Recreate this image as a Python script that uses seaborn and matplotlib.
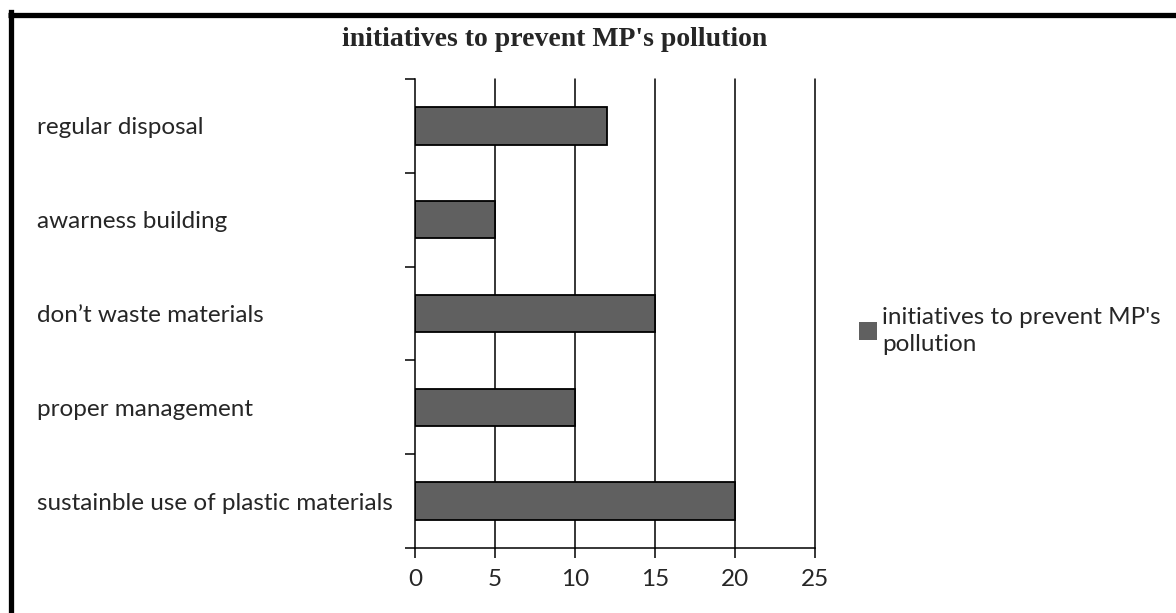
import matplotlib
matplotlib.use("Agg")
import matplotlib.pyplot as plt
import seaborn as sns
import pandas as pd
from matplotlib.lines import Line2D
from matplotlib.patches import Patch

categories = ["regular disposal", "awarness building", "don\u2019t waste materials",
              "proper management", "sustainble use of plastic materials"]
values = [12, 5, 15, 10, 20]
series_name = "initiatives to prevent MP's pollution"
xticks = [0, 5, 10, 15, 20, 25]

df = pd.DataFrame({"category": categories, "value": values})

sns.set_style("white")
plt.rcParams['font.family'] = ['Lato', 'DejaVu Sans']

W, H = 1176, 613
FS = 17.5
fig = plt.figure(figsize=(W / 100, H / 100), dpi=100)
ax = fig.add_axes([415 / W, (H - 548) / H, 400 / W, (548 - 79) / H])

sns.barplot(data=df, x="value", y="category", orient="h", color="#606060",
            edgecolor="black", linewidth=1.3, width=0.4, saturation=1, ax=ax, zorder=3)

ax.set_xlim(0, 25)
ax.set_ylim(4.5, -0.5)
ax.set_xticks(xticks)
ax.set_xticklabels([str(t) for t in xticks], fontsize=FS)
ax.set_xlabel("")
ax.set_ylabel("")

# major y ticks at category boundaries, labels on minor ticks at centers
ax.set_yticks([i - 0.5 for i in range(len(categories) + 1)])
ax.set_yticklabels([])
ax.set_yticks(list(range(len(categories))), minor=True)
ax.set_yticklabels(categories, minor=True, fontsize=FS, ha="left")
ax.tick_params(axis="y", which="minor", length=0, pad=378 * 0.72)
ax.tick_params(axis="y", which="major", length=7, width=1.1, color="black", direction="out", left=True)
ax.tick_params(axis="x", length=7, width=1.1, color="black", direction="out", bottom=True, pad=8)

for x in xticks[1:]:
    ax.axvline(x, color="black", lw=1.1, zorder=1, clip_on=False)

for s in ["top", "right"]:
    ax.spines[s].set_visible(False)
for s in ["left", "bottom"]:
    ax.spines[s].set_visible(True)
    ax.spines[s].set_color("black")
    ax.spines[s].set_linewidth(1.1)
ax.spines["left"].set_zorder(4)

fig.text(555 / W, 1 - 39 / H, series_name, ha="center", va="center",
         fontsize=20, fontweight="bold", family=["Liberation Serif", "DejaVu Serif"])

handle = Patch(facecolor="#606060", edgecolor="none")
leg = fig.legend([handle], ["initiatives to prevent MP's\npollution"], loc="center left",
                 bbox_to_anchor=(847 / W, 1 - 331 / H), frameon=False, fontsize=FS,
                 handlelength=0.75, handleheight=0.75, handletextpad=0.2, borderpad=0)
for t in leg.get_texts():
    t.set_linespacing(1.35)

# figure frame lines (left and top)
fig.add_artist(Line2D([10.5 / W, 10.5 / W], [0, 1 - 12 / H], transform=fig.transFigure,
                      color="black", lw=3.8, solid_capstyle="projecting"))
fig.add_artist(Line2D([8 / W, 1], [1 - 15 / H, 1 - 15 / H], transform=fig.transFigure,
                      color="black", lw=3.8, solid_capstyle="butt"))

fig.savefig("out.png", dpi=100)
